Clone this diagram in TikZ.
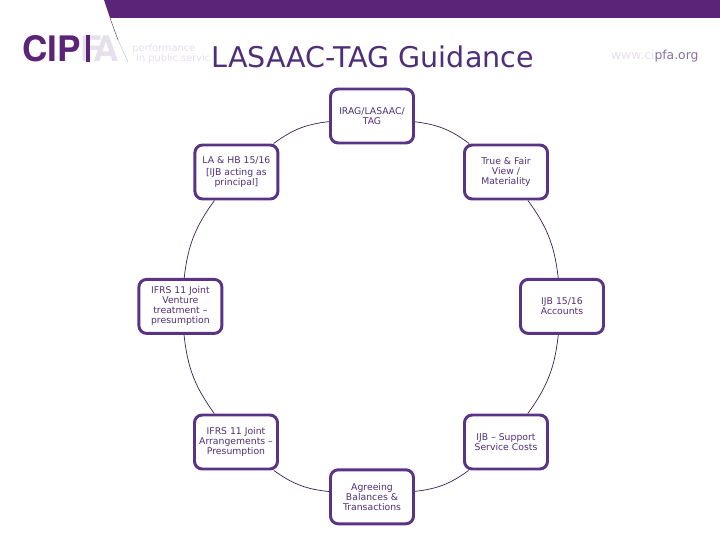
\documentclass[tikz,border=0pt]{standalone}
\usepackage{fontspec}
\setmainfont{DejaVu Sans}
\newfontfamily\logofont{TeX Gyre Heros}
\usetikzlibrary{calc}
\definecolor{cipfapurple}{HTML}{5C2478}
\definecolor{cipfabox}{HTML}{5A3385}
\definecolor{cipfatext}{HTML}{4F2F78}
\definecolor{cipfapale}{HTML}{E6DFEC}
\tikzset{
    topic/.style={draw=cipfabox, line width=2.1pt, rounded corners=5.5pt, fill=white, text=cipfatext, align=center, font=\fontsize{6.6}{7.1}\selectfont, minimum width=2.075cm, minimum height=1.35cm, inner sep=0pt},
    link/.style={draw=cipfatext!70!black, line width=0.5pt}
}
\begin{document}
\begin{tikzpicture}
    \useasboundingbox (0,0) rectangle (18,13.5);
    % top band and logo
    \fill[cipfapurple] (2.6,13.5) -- (2.75,13.05) -- (18,13.05) -- (18,13.5) -- cycle;
    \draw[gray!80!black, line width=0.4pt] (2.75,13.05) -- (2.95,12.5);
    \draw[gray!40, line width=0.4pt] (2.95,12.5) -- (3.2,11.95);
    \node[anchor=base west, inner sep=0pt, text=cipfapurple, font=\logofont\bfseries\fontsize{25}{25}\selectfont] (logo) at (0.55,11.95) {CIP\textcolor{cipfapale}{F\kern-.24em A}};
    \fill[cipfapurple] (2.14,11.95) rectangle (2.25,12.63);
    \node[anchor=base west, inner sep=0pt, text=cipfapale, font=\fontsize{7}{8}\selectfont] (strap1) at (3.3,12.2) {performance};
    \node[anchor=base west, inner sep=0pt, text=cipfapale, font=\fontsize{7}{8}\selectfont] (strap2) at (3.4,11.95) {in public service};
    \node[anchor=base west, inner sep=1pt, fill=white, text=cipfatext, font=\fontsize{20.3}{24}\selectfont] (title) at (5.25,11.8) {LASAAC-TAG Guidance};
    \node[anchor=base east, inner sep=0pt, text=cipfatext!70, font=\fontsize{8.8}{10}\selectfont] (web) at (17.47,12.02) {\textcolor{cipfapale}{www.ci}pfa.org};

    \node[topic] (irag) at (9.3,10.6) {IRAG/LASAAC/\\TAG};
    \node[topic] (fair) at (12.65,9.2) {True \& Fair\\View /\\Materiality};
    \node[topic] (acc) at (14.05,5.84) {IJB 15/16\\Accounts};
    \node[topic] (supp) at (12.65,2.45) {IJB – Support\\Service Costs};
    \node[topic] (agree) at (9.3,1.08) {Agreeing\\Balances \&\\Transactions};
    \node[topic] (arr) at (5.9,2.45) {IFRS 11 Joint\\Arrangements –\\Presumption};
    \node[topic] (jv) at (4.51,5.84) {IFRS 11 Joint\\Venture\\treatment –\\presumption};
    \node[topic] (hb) at (5.91,9.2) {LA \& HB 15/16\\[2pt]{}[IJB acting as\\principal]};

    \foreach \a/\b in {irag/fair, fair/acc, acc/supp, supp/agree, agree/arr, arr/jv, jv/hb, hb/irag} {
        \draw[link] (\a) to[bend left=15] (\b);
    }
\end{tikzpicture}
\end{document}
